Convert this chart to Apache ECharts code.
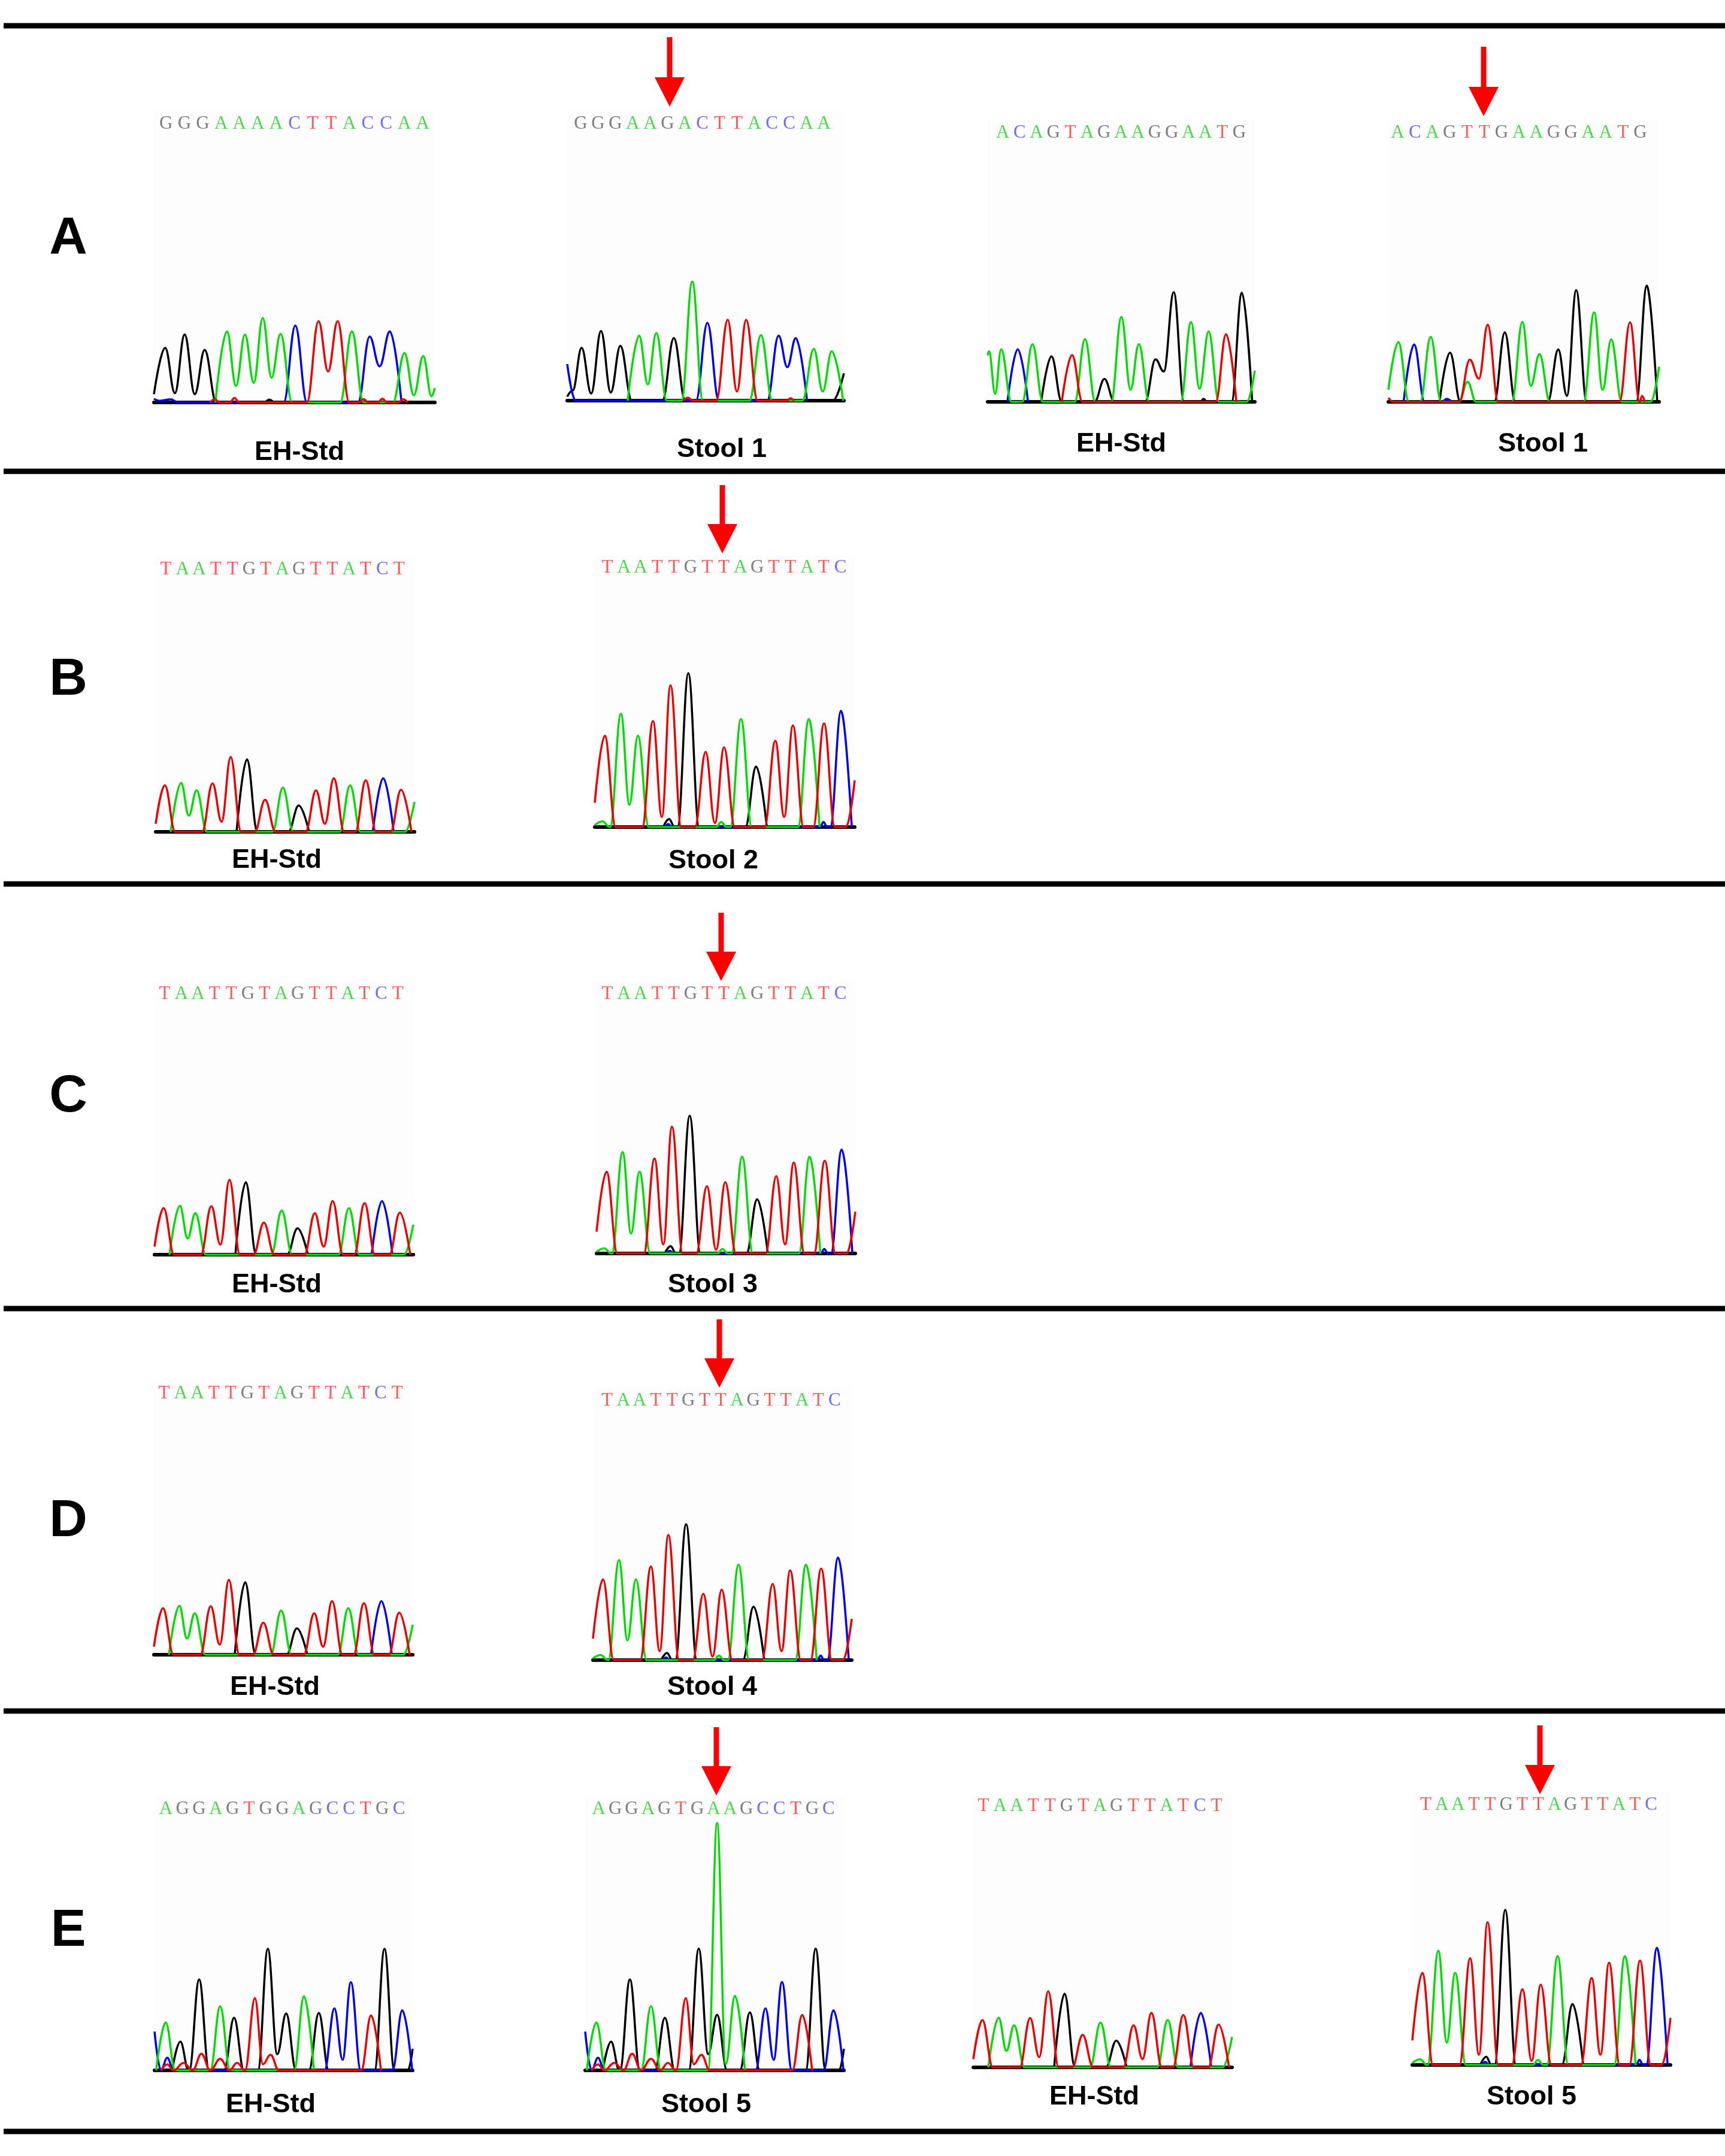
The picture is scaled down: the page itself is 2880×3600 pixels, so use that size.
<!DOCTYPE html>
<html>
<head>
<meta charset="utf-8">
<script src="https://cdn.jsdelivr.net/npm/echarts@6/dist/echarts.min.js"></script>
<style>
html, body { margin: 0; padding: 0; background: #fff; }
#main { width: 2880px; height: 3600px; }
</style>
</head>
<body>
<div id="main"></div>
<script>
// trace colours and base-call letter colours
var traceColors = { A: '#00dd00', C: '#0000ee', G: '#000000', T: '#ee0000' };
var letterColors = { A: '#48d848', C: '#6e6eff', G: '#7f7f7f', T: '#ff5858' };

var rowLabels = ['A', 'B', 'C', 'D', 'E'];

// base calls printed above each trace
var seqA1 = 'GGGAAAACTTACCAA';
var seqA2 = 'GGGAAGACTTACCAA';
var seqA3 = 'ACAGTAGAAGGAATG';
var seqA4 = 'ACAGTTGAAGGAATG';
var seqStd = 'TAATTGTAGTTATCT';
var seqStool = 'TAATTGTTAGTTATC';
var seqE1 = 'AGGAGTGGAGCCTGC';
var seqE2 = 'AGGAGTGAAGCCTGC';

// traces: per channel flat list of [base position, signal, ...]
var trA1 = {
    G: [0,40, 0.6,265, 1.12,45, 1.64,330, 2.18,40, 2.71,255, 3.33,0, 5.9,0, 6.15,14, 6.4,0],
    A: [3.28,0, 3.9,345, 4.38,80, 4.86,330, 5.33,95, 5.81,410, 6.28,120, 6.76,333, 7.38,0, 9.95,0, 10.57,345, 11.19,0, 12.76,0, 13.38,240, 13.88,35, 14.38,225, 14.82,30, 15,70],
    C: [0,18, 0.3,8, 0.9,15, 1.3,0, 6.93,0, 7.55,373, 8.17,0, 10.9,0, 11.52,320, 12.05,175, 12.6,345, 13.22,0],
    T: [3.0,0, 3.25,16, 3.5,0, 4.05,0, 4.3,22, 4.55,0, 8.17,0, 8.79,395, 9.3,150, 9.81,395, 10.43,0, 10.95,0, 11.2,16, 11.45,0, 11.95,0, 12.2,18, 12.45,0, 13.05,0, 13.3,16, 13.55,0]
};
var trA2 = {
    G: [0,20, 0.3,50, 0.78,260, 1.3,35, 1.83,343, 2.36,40, 2.88,270, 3.5,0, 5.16,0, 5.78,308, 6.4,0, 14.4,0, 15,135],
    A: [3.28,0, 3.9,320, 4.37,80, 4.83,333, 5.4,0, 6.2,0, 6.78,587, 7.35,0, 9.88,0, 10.5,323, 11.12,0, 12.75,0, 13.37,255, 13.85,45, 14.34,243, 14.96,0],
    C: [0,180, 0.45,0, 6.98,0, 7.6,383, 8.22,0, 10.84,0, 11.46,320, 11.93,165, 12.39,308, 13.0,0],
    T: [6.3,0, 6.55,15, 6.8,0, 8.08,0, 8.7,398, 9.2,45, 9.7,398, 10.32,0, 11.9,0, 12.1,12, 12.3,0]
};
var trA3 = {
    G: [3.22,0, 3.84,225, 4.46,0, 6.43,0, 7.03,113, 7.63,0, 9.48,0, 10.1,210, 10.6,150, 11.2,542, 11.82,0, 12.8,0, 13.0,15, 13.2,0, 14.68,0, 15.3,540, 15.92,0],
    A: [0,230, 0.08,250, 0.45,40, 0.81,260, 1.43,0, 2.08,0, 2.7,285, 3.32,0, 5.24,0, 5.86,310, 6.48,0, 7.43,0, 8.05,420, 8.6,60, 9.1,285, 9.72,0, 11.62,0, 12.24,395, 12.75,65, 13.3,348, 13.92,0, 15.6,0, 16.08,155],
    C: [1.19,0, 1.81,260, 2.43,0],
    T: [4.46,0, 5.08,232, 5.7,0, 13.73,0, 14.35,335, 14.97,0]
};
var trA4 = {
    G: [3.02,0, 3.64,245, 4.26,0, 6.26,0, 6.88,345, 7.5,0, 9.42,0, 10.04,260, 10.55,30, 11.1,555, 11.72,0, 14.65,0, 15.27,577, 15.89,0],
    A: [0,60, 0.59,297, 1.21,0, 1.88,0, 2.5,323, 3.12,0, 4.18,0, 4.68,100, 5.18,0, 7.3,0, 7.92,397, 8.42,80, 8.93,237, 9.55,0, 11.54,0, 12.16,445, 12.66,60, 13.17,310, 13.79,0, 15.5,0, 16.0,175],
    C: [0.9,0, 1.52,285, 2.14,0, 3.15,0, 3.45,15, 3.75,0],
    T: [0,20, 0.3,0, 4.19,0, 4.81,210, 5.35,115, 5.87,383, 6.49,0, 13.66,0, 14.28,395, 14.85,0, 15.0,30, 15.15,0]
};
// EH standard, same trace in rows B, C, D and E (right)
var trStd = {
    G: [4.81,0, 5.43,358, 6.05,0, 7.89,0, 8.51,130, 9.13,0],
    A: [0.89,0, 1.51,242, 1.97,80, 2.43,205, 3.05,0, 6.95,0, 7.57,218, 8.19,0, 10.95,0, 11.57,230, 12.19,0, 14.85,0, 15.4,148],
    C: [12.92,0, 13.54,265, 14.16,0],
    T: [0,40, 0.54,230, 1.16,0, 2.76,0, 3.38,240, 3.92,50, 4.46,370, 5.08,0, 5.89,0, 6.51,158, 7.13,0, 8.92,0, 9.54,205, 10.07,40, 10.6,265, 11.22,0, 11.88,0, 12.5,255, 13.12,0, 13.98,0, 14.6,208, 15.22,0]
};
// stool 2-5 with the G>T change
var trStool = {
    G: [3.95,0, 4.29,40, 4.6,0, 4.78,0, 5.4,758, 6.02,0, 8.69,0, 9.31,298, 9.93,0],
    A: [0,10, 0.45,28, 0.85,0, 0.89,0, 1.51,558, 2.0,110, 2.49,450, 3.11,0, 7.0,0, 7.3,25, 7.6,0, 7.82,0, 8.44,532, 9.06,0, 11.73,0, 12.35,532, 12.97,0],
    C: [4.05,0, 4.25,15, 4.45,0, 13.0,0, 13.2,25, 13.4,0, 13.59,0, 14.21,572, 14.83,0],
    T: [0,120, 0.58,450, 1.2,0, 2.74,0, 3.36,522, 3.87,50, 4.37,698, 4.99,0, 5.78,0, 6.4,370, 6.93,20, 7.46,392, 8.08,0, 9.8,0, 10.42,425, 10.93,50, 11.43,500, 12.05,0, 12.61,0, 13.23,510, 13.85,0, 14.5,0, 15.0,230]
};
var trE1 = {
    G: [1.1,0, 1.62,142, 2.14,0, 2.18,0, 2.8,450, 3.42,0, 4.37,0, 4.99,260, 5.61,0, 6.49,0, 7.11,602, 7.7,80, 8.26,282, 8.88,0, 9.69,0, 10.31,284, 10.93,0, 13.81,0, 14.43,602, 15.05,0, 15.9,0, 16.2,107],
    A: [0.1,0, 0.7,237, 1.3,0, 3.5,0, 4.12,317, 4.74,0, 8.76,0, 9.38,367, 10.0,0],
    C: [0,192, 0.4,0, 0.8,62, 1.2,0, 10.67,0, 11.29,307, 11.8,52, 12.32,437, 12.94,0, 14.93,0, 15.55,297, 16.17,0],
    T: [0.4,0, 0.8,30, 1.2,0, 1.82,37, 2.4,0, 2.94,82, 3.5,0, 4.12,57, 4.7,0, 5.18,37, 5.68,0, 6.3,357, 6.8,30, 7.28,77, 7.8,0, 12.97,0, 13.59,272, 14.21,0]
};
var trE2 = {
    G: [1.1,0, 1.62,142, 2.14,0, 2.18,0, 2.8,450, 3.42,0, 4.37,0, 4.99,260, 5.61,0, 6.49,0, 7.11,602, 7.7,80, 8.26,275, 8.88,0, 9.69,0, 10.31,287, 10.93,0, 13.81,0, 14.43,602, 15.05,0, 15.9,0, 16.2,107],
    A: [0.1,0, 0.7,237, 1.3,0, 3.5,0, 4.12,317, 4.74,0, 7.7,0, 8.26,1224, 8.8,30, 9.38,369, 10.0,0],
    C: [0,192, 0.4,0, 0.8,62, 1.2,0, 10.67,0, 11.29,307, 11.8,52, 12.32,437, 12.94,0, 14.93,0, 15.55,297, 16.17,0],
    T: [0.4,0, 0.8,30, 1.2,0, 1.82,37, 2.4,0, 2.94,82, 3.5,0, 4.12,57, 4.7,0, 5.18,37, 5.68,0, 6.3,357, 6.8,30, 7.28,77, 7.8,0, 12.97,0, 13.59,274, 14.21,0]
};

// layout of the 14 panels (pixels)
var panels = [
    { tr: trA1, seq: seqA1, xmax: 15.0, left: 257, right: 726, base: 672, px: 141, tx0: 262, tx1: 721, ty: 207, label: 'EH-Std', lx: 500, ly: 756 },
    { tr: trA2, seq: seqA2, xmax: 15.0, left: 947, right: 1409, base: 669, px: 199, tx0: 955, tx1: 1390, ty: 207, label: 'Stool 1', lx: 1205, ly: 751, arrow: [1118, 62, 178] },
    { tr: trA3, seq: seqA3, xmax: 16.08, left: 1649, right: 2095, base: 671, px: 183, tx0: 1660, tx1: 2083, ty: 222, label: 'EH-Std', lx: 1872, ly: 742 },
    { tr: trA4, seq: seqA4, xmax: 16.0, left: 2318, right: 2770, base: 671, px: 194, tx0: 2319, tx1: 2753, ty: 222, label: 'Stool 1', lx: 2576, ly: 742, arrow: [2477, 78, 194] },
    { tr: trStd, seq: seqStd, xmax: 15.4, left: 260, right: 692, base: 1389, px: 125, tx0: 263, tx1: 680, ty: 951, label: 'EH-Std', lx: 462, ly: 1437 },
    { tr: trStool, seq: seqStool, xmax: 15.0, left: 993, right: 1427, base: 1381, px: 257, tx0: 1000, tx1: 1417, ty: 948, label: 'Stool 2', lx: 1191, ly: 1438, arrow: [1206, 810, 924] },
    { tr: trStd, seq: seqStd, xmax: 15.4, left: 258, right: 690, base: 2095, px: 125, tx0: 261, tx1: 678, ty: 1660, label: 'EH-Std', lx: 462, ly: 2146 },
    { tr: trStool, seq: seqStool, xmax: 15.0, left: 996, right: 1428, base: 2093, px: 230, tx0: 1000, tx1: 1417, ty: 1660, label: 'Stool 3', lx: 1190, ly: 2146, arrow: [1204, 1524, 1638] },
    { tr: trStd, seq: seqStd, xmax: 15.4, left: 257, right: 689, base: 2763, px: 125, tx0: 260, tx1: 677, ty: 2327, label: 'EH-Std', lx: 459, ly: 2818 },
    { tr: trStool, seq: seqStool, xmax: 15.0, left: 990, right: 1422, base: 2772, px: 227, tx0: 1000, tx1: 1407, ty: 2339, label: 'Stool 4', lx: 1189, ly: 2818, arrow: [1201, 2203, 2317] },
    { tr: trE1, seq: seqE1, xmax: 16.2, left: 258, right: 689, base: 3457, px: 203, tx0: 263, tx1: 680, ty: 3021, label: 'EH-Std', lx: 452, ly: 3515 },
    { tr: trE2, seq: seqE2, xmax: 16.2, left: 977, right: 1409, base: 3457, px: 413, tx0: 986, tx1: 1397, ty: 3021, label: 'Stool 5', lx: 1179, ly: 3515, arrow: [1196, 2884, 2998] },
    { tr: trStd, seq: seqStd, xmax: 15.4, left: 1625, right: 2057, base: 3452, px: 127, tx0: 1628, tx1: 2045, ty: 3016, label: 'EH-Std', lx: 1827, ly: 3502 },
    { tr: trStool, seq: seqStool, xmax: 15.0, left: 2358, right: 2789, base: 3448, px: 259, tx0: 2367, tx1: 2770, ty: 3014, label: 'Stool 5', lx: 2557, ly: 3502, arrow: [2571, 2881, 2996] }
];
var separatorY = [43, 787, 1476, 2185, 2857, 3559];
var rowLabelY = [399, 1136, 1832, 2541, 3225];

function pairs(flat) {
    var out = [];
    for (var i = 0; i < flat.length; i += 2) {
        out.push([flat[i], flat[i + 1]]);
    }
    return out;
}

function peakMax(tr) {
    var m = 0;
    ['A', 'C', 'G', 'T'].forEach(function (b) {
        for (var i = 1; i < tr[b].length; i += 2) m = Math.max(m, tr[b][i]);
    });
    return m;
}

var grids = [], xAxes = [], yAxes = [], series = [], graphics = [];
var head = 1.03;

panels.forEach(function (p) {
    // trace grid
    var g = grids.length;
    grids.push({ left: p.left, width: p.right - p.left, top: p.base - p.px * head, height: p.px * head });
    xAxes.push({
        gridIndex: g, type: 'value', min: 0, max: p.xmax,
        axisLine: { show: true, lineStyle: { color: '#000', width: 6 } },
        axisTick: { show: false }, axisLabel: { show: false }, splitLine: { show: false }
    });
    yAxes.push({ gridIndex: g, type: 'value', min: 0, max: peakMax(p.tr) * head, show: false });
    ['G', 'C', 'A', 'T'].forEach(function (b) {
        series.push({
            type: 'line', xAxisIndex: g, yAxisIndex: g,
            data: pairs(p.tr[b]),
            smooth: 0.4, smoothMonotone: 'x', symbol: 'none', clip: true,
            lineStyle: { color: traceColors[b], width: 3.5 },
            silent: true
        });
    });

    // base-call letters on their own category axis
    var l = grids.length;
    grids.push({ left: p.tx0, width: p.tx1 - p.tx0, top: p.ty - 17, height: 1 });
    xAxes.push({
        gridIndex: l, type: 'category', position: 'bottom', data: p.seq.split(''),
        axisLine: { show: false }, axisTick: { show: false }, splitLine: { show: false },
        axisLabel: {
            interval: 0, margin: 0, fontFamily: 'Liberation Serif', fontSize: 31,
            color: function (v) { return letterColors[v]; }
        }
    });
    yAxes.push({ gridIndex: l, type: 'value', show: false });

    // faint panel background
    graphics.push({
        type: 'rect', z: -10,
        shape: { x: p.left, y: p.ty - 22, width: p.right - p.left, height: p.base - p.ty + 22 },
        style: { fill: '#fdfdfd' }
    });

    graphics.push({
        type: 'text', z: 10,
        style: {
            text: p.label, x: p.lx, y: p.ly, fill: '#000',
            font: 'bold 45px "Liberation Sans", Arial, sans-serif',
            align: 'center', verticalAlign: 'middle', textAlign: 'center', textVerticalAlign: 'middle'
        }
    });

    if (p.arrow) {
        var ax = p.arrow[0], tail = p.arrow[1], tip = p.arrow[2];
        graphics.push({
            type: 'rect', z: 10,
            shape: { x: ax - 4.5, y: tail, width: 9, height: tip - 49 - tail + 2 },
            style: { fill: '#ff0000' }
        });
        graphics.push({
            type: 'polygon', z: 10,
            shape: { points: [[ax - 25, tip - 49], [ax + 25, tip - 49], [ax, tip]] },
            style: { fill: '#ff0000' }
        });
    }
});

separatorY.forEach(function (y) {
    graphics.push({
        type: 'rect', z: 10,
        shape: { x: 6, y: y - 4.5, width: 2874, height: 9 },
        style: { fill: '#000' }
    });
});

rowLabels.forEach(function (t, i) {
    graphics.push({
        type: 'text', z: 10,
        style: {
            text: t, x: 114, y: rowLabelY[i], fill: '#000',
            font: 'bold 88px "Liberation Sans", Arial, sans-serif',
            align: 'center', verticalAlign: 'middle', textAlign: 'center', textVerticalAlign: 'middle'
        }
    });
});

var chart = echarts.init(document.getElementById('main'));
chart.setOption({
    backgroundColor: '#ffffff',
    animation: false,
    grid: grids,
    xAxis: xAxes,
    yAxis: yAxes,
    series: series,
    graphic: graphics
});
</script>
</body>
</html>
